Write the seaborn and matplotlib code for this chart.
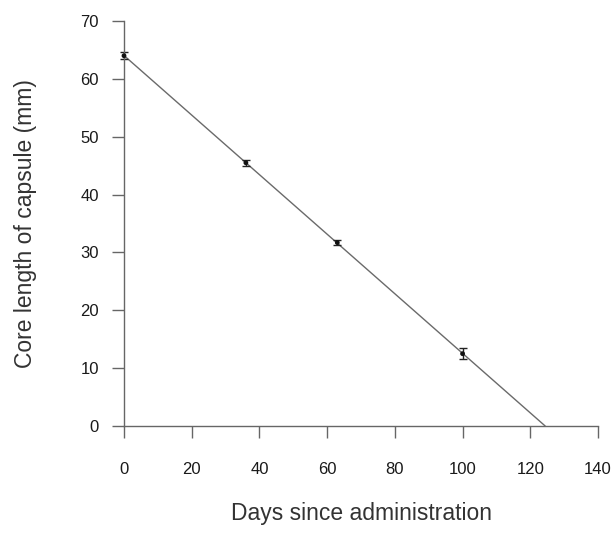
import numpy as np
import pandas as pd
import matplotlib
matplotlib.use("Agg")
import matplotlib.pyplot as plt
import seaborn as sns

# data
days = [0, 36, 63, 100]
core_length = [64.0, 45.5, 31.7, 12.5]
core_err = [0.6, 0.5, 0.4, 0.9]

df = pd.DataFrame({"Days": days, "Length": core_length, "Err": core_err})

sns.set_style("white")
plt.rcParams["font.family"] = ["Liberation Sans", "DejaVu Sans"]

fig = plt.figure(figsize=(6.16, 5.4), dpi=100)
ax = fig.add_axes([0.2013, 0.2111, 0.7695, 0.75])

# fitted line from the points, drawn down to where it crosses zero
slope, intercept = np.polyfit(df["Days"], df["Length"], 1)
x_end = -intercept / slope
line_x = np.linspace(0, x_end, 50)
sns.lineplot(x=line_x, y=slope * line_x + intercept, ax=ax,
             color="#6a6a6a", linewidth=1.0)

ax.errorbar(df["Days"], df["Length"], yerr=df["Err"], fmt="none",
            ecolor="#222222", elinewidth=1.0, capsize=3, capthick=1.0,
            clip_on=False)
sns.scatterplot(data=df, x="Days", y="Length", ax=ax, color="#111111",
                s=12, edgecolor="none", zorder=3, clip_on=False)

ax.set_xlim(0, 140)
ax.set_ylim(0, 70)
ax.set_xticks(range(0, 141, 20))
ax.set_yticks(range(0, 71, 10))

for s in ["top", "right"]:
    ax.spines[s].set_visible(False)
for s in ["left", "bottom"]:
    ax.spines[s].set_color("#666666")
    ax.spines[s].set_linewidth(1.0)

ax.tick_params(axis="both", bottom=True, left=True, length=8.6, width=1.0,
               color="#666666", labelsize=12, labelcolor="#1a1a1a")
ax.tick_params(axis="y", pad=9.5)
ax.tick_params(axis="x", pad=17)

ax.set_xlabel("Days since administration", fontsize=16.5, color="#333333",
              labelpad=18)
ax.set_ylabel("Core length of capsule (mm)", fontsize=16.5, color="#333333",
              labelpad=31)

fig.savefig("out.png", dpi=100)
